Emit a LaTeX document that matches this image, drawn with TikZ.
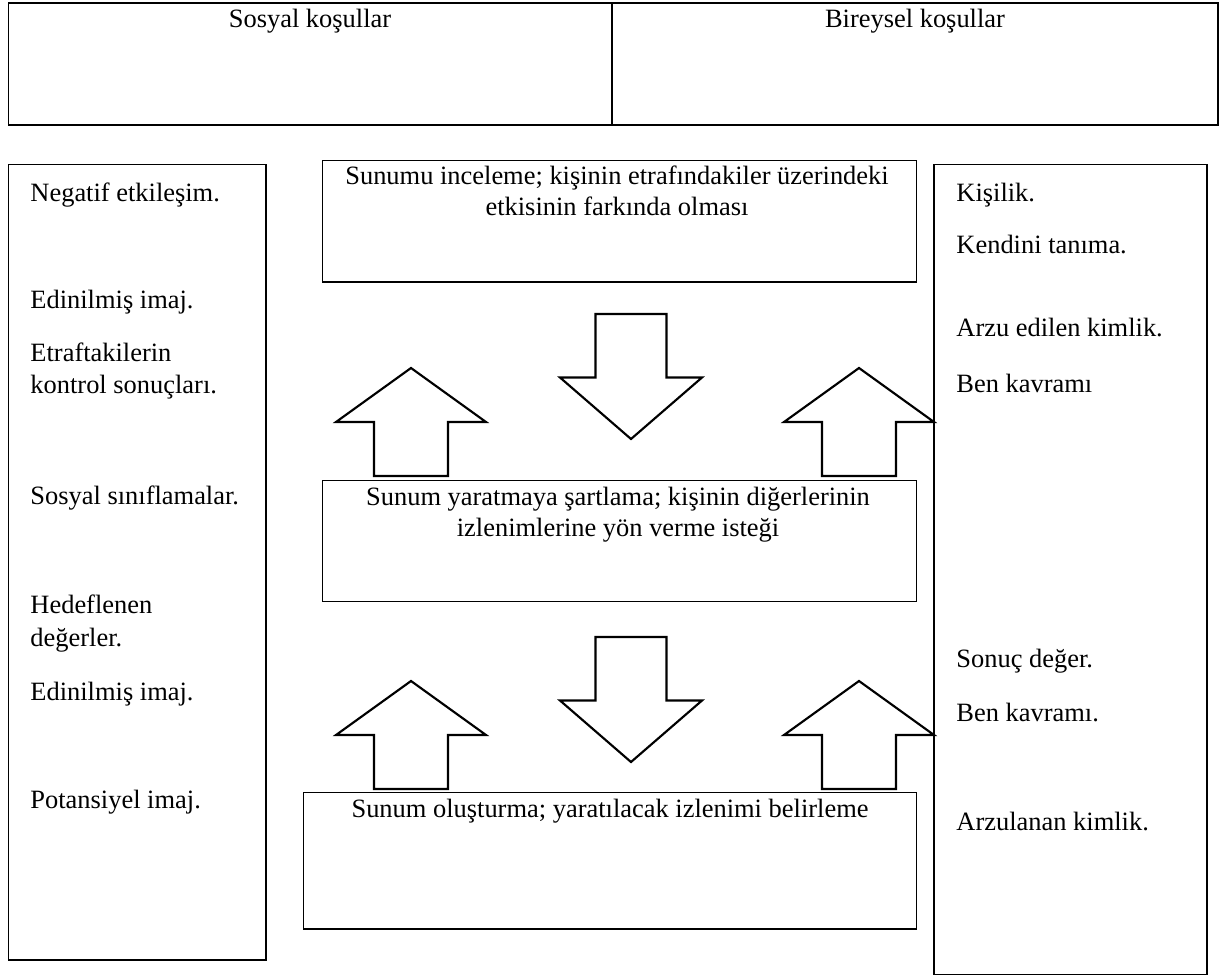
\documentclass[tikz,border=0pt]{standalone}
\usepackage{fontspec}
\setmainfont{Liberation Serif}
\usetikzlibrary{fit}
\newcommand\UpBlk[2]{%
  \draw[blk] (#1,#2) -- ++(75,54) -- ++(-38,0) -- ++(0,54) -- ++(-74,0) -- ++(0,-54) -- ++(-38,0) -- cycle;}
\newcommand\DnBlk[2]{%
  \draw[blk] ({#1-35.5},#2) -- ++(71,0) -- ++(0,63.5) -- ++(35.5,0) -- ++(-71,61.5) -- ++(-71,-61.5) -- ++(35.5,0) -- cycle;}
\begin{document}
\begin{tikzpicture}[x=0.4444pt,y=-0.4444pt,
  every node/.style={font=\fontsize{11.75}{14}\selectfont},
  cellbox/.style={draw, line width=0.65pt, inner sep=0pt},
  sidebox/.style={draw, line width=0.8pt, inner sep=0pt},
  midbox/.style={draw, line width=0.5pt, inner sep=0pt},
  item/.style={anchor=base west, inner sep=0pt},
  ctext/.style={anchor=base, inner sep=0pt},
  blk/.style={draw, line width=0.95pt, fill=white, line join=miter}]
\useasboundingbox[fill=white] (0,0) rectangle (1229,976);

% top table
\node[cellbox, fit={(8.5,3)(612,125)}] (soc) {};
\node[cellbox, fit={(612,3)(1218,125)}] (ind) {};
\node[ctext] (soct) at (310,28) {Sosyal koşullar};
\node[ctext] (indt) at (915,28) {Bireysel koşullar};

% side boxes
\node[sidebox, fit={(8.5,164.5)(266,960)}] (left) {};
\node[sidebox, fit={(934,164.5)(1207,974.5)}] (right) {};

% centre boxes
\node[midbox, fit={(322.3,160.7)(916.7,282)}] (b1) {};
\node[midbox, fit={(322.3,480.7)(916.7,601.7)}] (b2) {};
\node[midbox, fit={(303.3,792.7)(916.7,929)}] (b3) {};

\node[ctext] (b1a) at (617,184) {Sunumu inceleme; kişinin etrafındakiler üzerindeki};
\node[ctext] (b1b) at (617,215.5) {etkisinin farkında olması};
\node[ctext] (b2a) at (618,505) {Sunum yaratmaya şartlama; kişinin diğerlerinin};
\node[ctext] (b2b) at (618,536) {izlenimlerine yön verme isteği};
\node[ctext] (b3a) at (610,817) {Sunum oluşturma; yaratılacak izlenimi belirleme};

% left items
\node[item] (l1) at (30,201) {Negatif etkileşim.};
\node[item] (l2) at (30,308) {Edinilmiş imaj.};
\node[item] (l3a) at (30,361) {Etraftakilerin};
\node[item] (l3b) at (30,393) {kontrol sonuçları.};
\node[item] (l4) at (30,504) {Sosyal sınıflamalar.};
\node[item] (l5a) at (30,613) {Hedeflenen};
\node[item] (l5b) at (30,646) {değerler.};
\node[item] (l6) at (30,700) {Edinilmiş imaj.};
\node[item] (l7) at (30,808) {Potansiyel imaj.};

% right items
\node[item] (r1) at (956,201) {Kişilik.};
\node[item] (r2) at (956,253.5) {Kendini tanıma.};
\node[item] (r3) at (956,336) {Arzu edilen kimlik.};
\node[item] (r4) at (956,392) {Ben kavramı};
\node[item] (r5) at (956,667) {Sonuç değer.};
\node[item] (r6) at (956,721) {Ben kavramı.};
\node[item] (r7) at (956,830) {Arzulanan kimlik.};

% block arrows
\UpBlk{411}{368}
\UpBlk{859}{368}
\DnBlk{631}{314}
\UpBlk{411}{681}
\UpBlk{859}{681}
\DnBlk{631}{637}
\end{tikzpicture}
\end{document}
